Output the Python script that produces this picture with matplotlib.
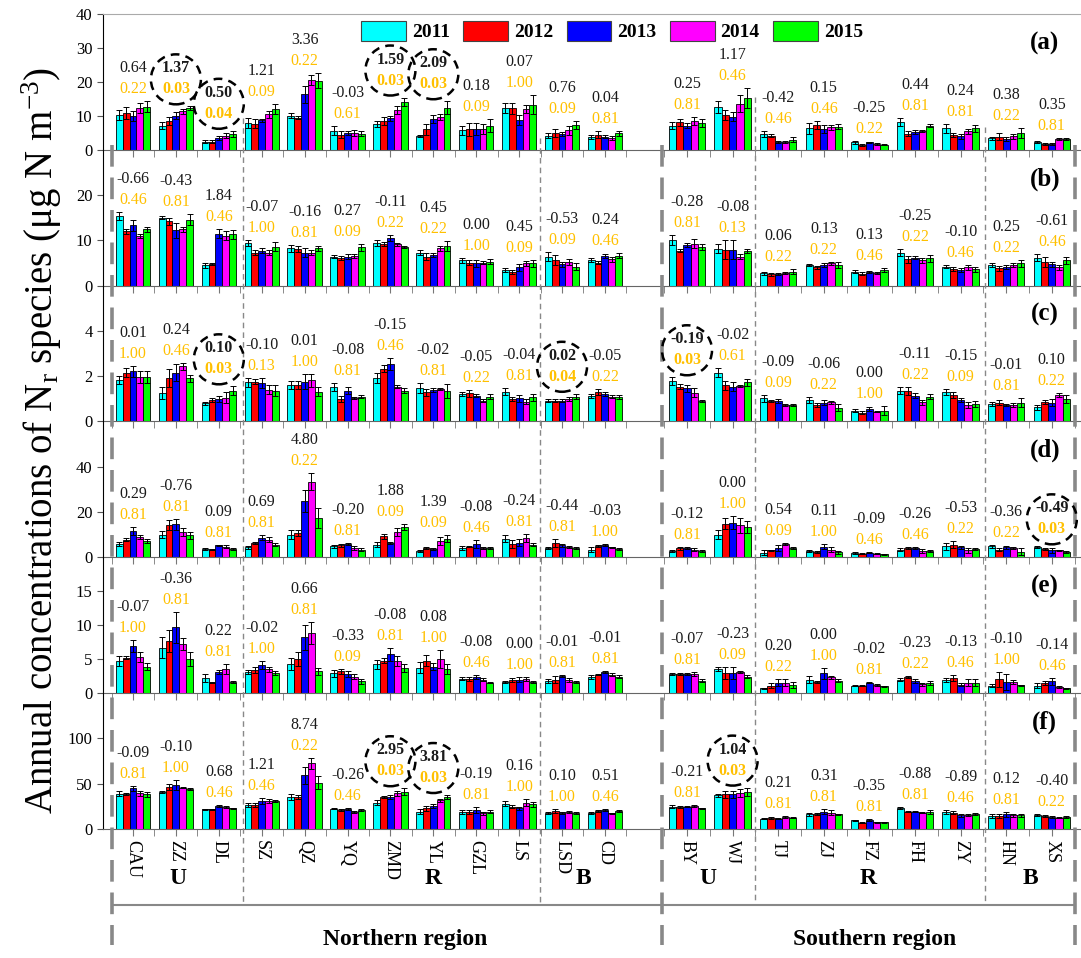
import matplotlib
matplotlib.use("Agg")
import matplotlib.pyplot as plt
import matplotlib.transforms as mtransforms
import numpy as np
from matplotlib.lines import Line2D
from matplotlib.patches import Circle, Patch

plt.rcParams["font.family"] = ["Liberation Serif", "DejaVu Serif"]
plt.rcParams["mathtext.fontset"] = "custom"
plt.rcParams["mathtext.rm"] = "Liberation Serif"
plt.rcParams["mathtext.it"] = "Liberation Serif:italic"

SITES_N = ["CAU", "ZZ", "DL", "SZ", "QZ", "YQ", "ZMD", "YL", "GZL", "LS", "LSD", "CD"]
SITES_S = ["BY", "WJ", "TJ", "ZJ", "FZ", "FH", "ZY", "HN", "XS"]
YEARS = ["2011", "2012", "2013", "2014", "2015"]
COLORS = ["#00FFFF", "#FF0000", "#0000FF", "#FF00FF", "#00FF00"]

# (a) annual means per site, 2011-2015
A_VAL = [[10.2, 10.8, 10.0, 12.2, 12.7], [7.1, 8.5, 10.0, 11.3, 12.2], [2.4, 2.4, 3.4, 4.2, 4.7],
         [7.9, 7.7, 8.7, 10.4, 12.0], [10.0, 9.5, 16.3, 20.6, 20.4], [5.6, 4.5, 4.9, 4.9, 4.7],
         [7.6, 8.4, 9.3, 11.7, 14.1], [4.2, 6.1, 9.0, 9.7, 12.4], [5.8, 6.1, 6.1, 6.1, 7.1],
         [12.4, 12.2, 8.7, 12.0, 13.3], [4.2, 4.9, 4.7, 5.8, 7.3], [3.9, 4.5, 3.9, 3.5, 4.9],
         [7.1, 8.1, 7.1, 8.5, 7.9], [12.7, 10.2, 9.8, 13.6, 15.2], [4.7, 4.2, 2.4, 2.2, 3.0],
         [6.3, 7.3, 6.1, 6.6, 6.8], [2.2, 1.5, 2.2, 1.7, 1.5], [8.1, 4.7, 5.2, 5.6, 7.1],
         [6.3, 4.4, 4.0, 5.4, 6.3], [3.4, 3.9, 3.2, 4.0, 5.0], [2.2, 1.7, 1.7, 3.2, 3.2]]
A_ERR = [[1.4, 1.7, 1.5, 1.5, 1.6], [1.0, 1.3, 1.0, 0.7, 0.6], [0.5, 0.4, 0.6, 0.8, 0.9],
         [1.5, 1.4, 0.5, 1.1, 1.6], [0.7, 0.5, 2.5, 1.4, 2.2], [1.3, 0.9, 0.5, 0.8, 0.7],
         [1.0, 1.2, 0.7, 1.1, 1.3], [0.3, 1.6, 1.2, 0.8, 1.9], [1.3, 1.9, 1.7, 1.5, 2.0],
         [1.5, 1.7, 1.5, 1.2, 2.8], [0.8, 1.1, 0.5, 1.3, 1.3], [0.6, 0.9, 0.5, 0.5, 0.7],
         [1.0, 1.0, 0.8, 1.3, 1.2], [1.8, 1.5, 1.2, 2.5, 3.0], [0.8, 0.5, 0.3, 0.3, 0.7],
         [1.5, 1.3, 1.2, 0.7, 0.8], [0.4, 0.3, 0.2, 0.2, 0.2], [1.2, 0.7, 0.5, 0.3, 0.5],
         [1.3, 0.6, 0.7, 0.8, 1.0], [0.5, 1.1, 0.5, 0.7, 1.4], [0.3, 0.2, 0.2, 0.4, 0.4]]
A_SLOPE = [0.64, 1.37, 0.50, 1.21, 3.36, -0.03, 1.59, 2.09, 0.18, 0.07, 0.76, 0.04,
           0.25, 1.17, -0.42, 0.15, -0.25, 0.44, 0.24, 0.38, 0.35]
A_P = [0.22, 0.03, 0.04, 0.09, 0.22, 0.61, 0.03, 0.03, 0.09, 1.00, 0.09, 0.81,
       0.81, 0.46, 0.46, 0.46, 0.22, 0.81, 0.81, 0.22, 0.81]

# (b)
B_VAL = [[15.4, 12.0, 13.3, 11.0, 12.4], [15.0, 14.2, 12.2, 12.4, 14.6], [4.5, 4.7, 11.5, 11.0, 11.3],
         [9.4, 7.3, 7.7, 7.3, 8.6], [8.2, 8.1, 7.3, 7.3, 8.2], [6.4, 6.1, 6.4, 6.6, 8.5],
         [9.4, 9.2, 10.5, 9.1, 8.6], [7.3, 6.4, 6.7, 8.2, 8.7], [5.6, 5.1, 4.9, 5.1, 5.3],
         [3.4, 3.0, 4.0, 4.9, 4.9], [6.4, 5.6, 4.7, 5.2, 4.2], [5.6, 5.1, 6.6, 5.8, 6.6],
         [10.1, 7.7, 9.0, 9.2, 8.5], [8.1, 7.9, 7.9, 6.4, 7.6], [2.7, 2.5, 2.5, 2.8, 3.1],
         [4.5, 4.0, 4.6, 4.9, 4.6], [3.1, 2.6, 3.0, 2.8, 3.4], [7.3, 5.8, 6.2, 5.6, 6.0],
         [4.2, 3.7, 3.4, 4.0, 3.6], [4.5, 3.8, 4.1, 4.6, 4.9], [6.2, 5.2, 4.7, 4.0, 5.6]]
B_ERR = [[0.9, 0.6, 1.3, 0.5, 0.6], [0.3, 0.8, 1.7, 0.6, 1.2], [0.6, 0.2, 1.0, 1.0, 0.9],
         [0.7, 0.6, 0.6, 0.6, 1.0], [0.8, 0.7, 0.9, 0.6, 0.6], [0.3, 0.4, 0.5, 0.4, 0.8],
         [0.7, 0.4, 0.7, 0.4, 0.2], [0.5, 0.7, 0.4, 0.6, 1.1], [0.5, 0.6, 0.8, 0.4, 0.6],
         [0.4, 0.4, 0.8, 0.6, 0.7], [1.0, 1.1, 0.5, 0.6, 0.7], [0.4, 0.3, 0.4, 0.5, 0.6],
         [1.1, 0.3, 0.4, 1.0, 0.7], [1.0, 2.1, 2.1, 0.6, 0.4], [0.3, 0.3, 0.2, 0.2, 0.5],
         [0.2, 0.4, 0.4, 0.3, 0.7], [0.4, 0.3, 0.3, 0.3, 0.5], [0.7, 0.7, 0.3, 0.6, 0.8],
         [0.3, 0.4, 0.5, 0.5, 0.5], [0.5, 0.5, 0.4, 0.5, 0.8], [0.8, 1.2, 0.5, 0.5, 0.8]]
B_SLOPE = [-0.66, -0.43, 1.84, -0.07, -0.16, 0.27, -0.11, 0.45, 0.00, 0.45, -0.53, 0.24,
           -0.28, -0.08, 0.06, 0.13, 0.13, -0.25, -0.10, 0.25, -0.61]
B_P = [0.46, 0.81, 0.46, 1.00, 0.81, 0.09, 0.22, 0.22, 1.00, 0.09, 0.09, 0.46,
       0.81, 0.13, 0.22, 0.22, 0.46, 0.22, 0.46, 0.22, 0.46]

# (c)
C_VAL = [[1.84, 2.16, 2.21, 1.96, 1.96], [1.24, 1.91, 2.16, 2.43, 1.91], [0.80, 0.95, 0.99, 1.05, 1.35],
         [1.72, 1.76, 1.69, 1.39, 1.36], [1.59, 1.59, 1.76, 1.81, 1.32], [1.51, 0.99, 1.36, 1.05, 1.10],
         [1.91, 2.32, 2.53, 1.54, 1.36], [1.47, 1.29, 1.39, 1.42, 1.35], [1.21, 1.24, 1.14, 0.92, 1.10],
         [1.32, 0.98, 1.02, 0.87, 1.07], [0.92, 0.92, 0.92, 0.99, 1.10], [1.12, 1.29, 1.20, 1.10, 1.07],
         [1.79, 1.54, 1.47, 1.27, 0.90], [2.16, 1.59, 1.54, 1.57, 1.72], [1.02, 0.90, 0.90, 0.72, 0.72],
         [0.95, 0.72, 0.83, 0.84, 0.61], [0.48, 0.39, 0.55, 0.43, 0.48], [1.35, 1.36, 1.14, 0.84, 1.10],
         [1.29, 1.17, 0.95, 0.72, 0.77], [0.76, 0.83, 0.72, 0.72, 0.83], [0.62, 0.87, 0.83, 1.17, 0.99]]
C_ERR = [[0.18, 0.19, 0.25, 0.28, 0.25], [0.27, 0.41, 0.37, 0.15, 0.15], [0.07, 0.10, 0.12, 0.25, 0.20],
         [0.20, 0.10, 0.22, 0.20, 0.25], [0.18, 0.18, 0.35, 0.30, 0.20], [0.18, 0.15, 0.15, 0.05, 0.05],
         [0.22, 0.15, 0.27, 0.07, 0.10], [0.22, 0.15, 0.10, 0.05, 0.30], [0.10, 0.15, 0.08, 0.07, 0.10],
         [0.15, 0.10, 0.15, 0.10, 0.15], [0.06, 0.06, 0.06, 0.08, 0.12], [0.10, 0.12, 0.08, 0.08, 0.08],
         [0.16, 0.10, 0.15, 0.20, 0.05], [0.20, 0.20, 0.20, 0.05, 0.15], [0.15, 0.05, 0.10, 0.05, 0.05],
         [0.15, 0.08, 0.10, 0.06, 0.15], [0.07, 0.05, 0.10, 0.03, 0.20], [0.15, 0.18, 0.10, 0.10, 0.10],
         [0.13, 0.15, 0.08, 0.12, 0.13], [0.08, 0.12, 0.06, 0.10, 0.20], [0.10, 0.08, 0.16, 0.10, 0.18]]
C_SLOPE = [0.01, 0.24, 0.10, -0.10, 0.01, -0.08, -0.15, -0.02, -0.05, -0.04, 0.02, -0.05,
           -0.19, -0.02, -0.09, -0.06, 0.00, -0.11, -0.15, -0.01, 0.10]
C_P = [1.00, 0.46, 0.03, 0.13, 1.00, 0.81, 0.46, 0.81, 0.22, 0.81, 0.04, 0.22,
       0.03, 0.61, 0.09, 0.22, 1.00, 0.22, 0.09, 0.81, 0.22]

# (d)
D_VAL = [[5.9, 7.7, 11.6, 8.9, 7.0], [10.0, 14.1, 14.5, 11.1, 9.6], [3.7, 3.3, 5.2, 4.7, 3.7],
         [4.4, 6.2, 8.6, 7.7, 5.6], [10.0, 10.7, 24.9, 33.3, 17.5], [4.8, 5.2, 5.9, 4.1, 3.4],
         [5.5, 9.2, 6.2, 11.1, 13.3], [2.7, 4.1, 3.7, 7.1, 8.1], [4.1, 4.7, 5.9, 4.1, 4.0],
         [8.1, 5.9, 6.4, 8.6, 5.6], [4.0, 6.4, 5.2, 4.4, 4.1], [3.3, 4.9, 5.5, 4.4, 3.7],
         [2.7, 4.0, 4.0, 3.3, 2.7], [10.0, 14.8, 15.3, 14.1, 13.3], [2.0, 3.0, 4.0, 5.9, 4.0],
         [2.7, 2.2, 4.7, 3.3, 2.2], [1.8, 1.5, 2.0, 1.5, 1.2], [3.4, 4.0, 4.0, 2.7, 2.7],
         [4.8, 5.5, 4.4, 3.0, 3.7], [4.8, 3.3, 4.4, 4.1, 2.5], [4.4, 3.7, 3.0, 3.0, 2.2]]
D_ERR = [[1.0, 0.7, 1.8, 1.0, 0.9], [1.6, 2.2, 2.5, 1.9, 1.5], [0.5, 0.3, 0.4, 0.7, 0.3],
         [0.7, 0.4, 1.0, 1.2, 0.6], [1.9, 1.5, 5.0, 3.7, 4.4], [0.7, 0.6, 0.5, 0.8, 0.5],
         [1.2, 1.2, 0.3, 1.8, 1.5], [0.3, 0.3, 0.4, 1.8, 1.5], [1.0, 0.4, 1.9, 0.6, 0.4],
         [1.5, 1.9, 1.5, 1.8, 0.7], [0.4, 1.8, 0.7, 0.4, 0.3], [1.2, 0.3, 0.5, 0.3, 0.3],
         [0.6, 0.7, 0.5, 0.7, 0.3], [1.9, 2.5, 2.8, 3.3, 2.5], [1.0, 0.3, 1.2, 0.3, 0.4],
         [0.6, 0.4, 1.2, 1.2, 0.7], [0.3, 0.2, 0.3, 0.2, 0.2], [0.6, 0.4, 0.4, 1.0, 0.5],
         [1.6, 1.5, 0.7, 1.2, 0.3], [0.7, 0.7, 0.7, 0.3, 1.5], [0.4, 0.4, 1.0, 0.3, 0.4]]
D_SLOPE = [0.29, -0.76, 0.09, 0.69, 4.80, -0.20, 1.88, 1.39, -0.08, -0.24, -0.44, -0.03,
           -0.12, 0.00, 0.54, 0.11, -0.09, -0.26, -0.53, -0.36, -0.49]
D_P = [0.81, 0.81, 0.81, 0.81, 0.22, 0.81, 0.09, 0.09, 0.46, 0.81, 0.81, 1.00,
       0.81, 1.00, 0.09, 1.00, 0.46, 0.46, 0.22, 0.22, 0.03]

# (e)
E_VAL = [[4.75, 5.2, 6.9, 5.3, 3.9], [6.7, 7.7, 9.7, 7.2, 5.0], [2.2, 1.5, 3.1, 3.5, 1.6],
         [3.1, 3.4, 4.1, 3.5, 2.9], [4.3, 5.0, 8.2, 8.8, 3.2], [2.9, 3.2, 2.8, 2.4, 1.7],
         [4.2, 4.75, 5.7, 4.75, 3.7], [3.7, 4.75, 3.9, 5.0, 3.5], [2.1, 2.1, 2.35, 1.95, 1.5],
         [1.6, 1.85, 1.95, 2.1, 1.6], [1.7, 1.95, 2.5, 1.95, 1.6], [2.4, 2.7, 3.1, 2.7, 2.4],
         [2.8, 2.8, 2.8, 2.8, 1.8], [3.5, 2.9, 2.9, 3.1, 2.4], [0.7, 1.1, 1.5, 1.5, 1.2],
         [1.95, 1.6, 2.9, 2.3, 1.8], [1.1, 1.1, 1.5, 1.2, 1.0], [1.95, 2.3, 1.8, 1.3, 1.5],
         [1.95, 2.2, 1.2, 1.5, 1.5], [1.1, 2.05, 1.6, 1.6, 1.15], [1.1, 1.5, 1.7, 0.9, 0.7]]
E_ERR = [[0.7, 0.2, 0.9, 0.7, 0.5], [1.5, 1.6, 2.3, 0.9, 1.0], [0.6, 0.1, 0.3, 0.7, 0.1],
         [0.35, 0.4, 0.6, 0.4, 0.3], [0.9, 1.0, 1.8, 1.6, 0.5], [0.5, 0.35, 0.4, 0.35, 0.4],
         [0.7, 0.4, 1.0, 0.7, 0.6], [0.8, 0.8, 0.5, 1.3, 0.7], [0.2, 0.3, 0.25, 0.2, 0.1],
         [0.1, 0.3, 0.4, 0.3, 0.2], [0.3, 0.5, 0.2, 0.3, 0.2], [0.3, 0.1, 0.2, 0.2, 0.2],
         [0.2, 0.2, 0.2, 0.3, 0.2], [0.3, 0.9, 0.9, 0.2, 0.25], [0.1, 0.3, 0.5, 0.5, 0.4],
         [0.5, 0.2, 0.8, 0.2, 0.2], [0.05, 0.05, 0.1, 0.1, 0.1], [0.2, 0.15, 0.3, 0.2, 0.3],
         [0.3, 0.5, 0.2, 0.5, 0.5], [0.2, 1.1, 1.2, 0.3, 0.1], [0.3, 0.3, 0.5, 0.1, 0.1]]
E_SLOPE = [-0.07, -0.36, 0.22, -0.02, 0.66, -0.33, -0.08, 0.08, -0.08, 0.00, -0.01, -0.01,
           -0.07, -0.23, 0.20, 0.00, -0.02, -0.23, -0.13, -0.10, -0.14]
E_P = [1.00, 0.81, 0.81, 1.00, 0.81, 0.09, 0.81, 1.00, 0.46, 1.00, 0.81, 0.81,
       0.81, 0.09, 0.22, 1.00, 0.81, 0.22, 0.46, 1.00, 0.46]

# (f)
F_VAL = [[38.9, 38.1, 44.8, 39.2, 38.1], [40.7, 46.7, 48.4, 45.6, 44.4], [21.4, 21.4, 25.1, 24.4, 22.6],
         [26.2, 26.2, 30.7, 30.7, 30.7], [35.1, 35.1, 59.2, 72.2, 51.1], [22.2, 20.7, 22.2, 18.9, 20.7],
         [28.9, 35.1, 35.1, 39.2, 41.1], [18.9, 22.6, 25.1, 31.4, 35.1], [18.9, 18.5, 20.7, 17.0, 18.9],
         [27.8, 24.4, 22.6, 28.9, 27.0], [17.8, 19.6, 17.8, 18.9, 17.8], [17.0, 19.6, 20.7, 17.0, 19.6],
         [24.4, 24.4, 24.4, 25.1, 22.6], [37.0, 38.1, 38.1, 39.2, 41.1], [11.1, 12.2, 11.1, 12.9, 12.2],
         [15.9, 16.7, 18.9, 17.8, 15.9], [9.2, 6.7, 9.6, 7.4, 7.4], [23.3, 18.9, 18.9, 17.8, 18.5],
         [18.5, 17.8, 14.8, 14.8, 16.7], [14.1, 14.1, 15.9, 14.8, 14.8], [15.2, 14.1, 12.9, 12.2, 12.9]]
F_ERR = [[2.9, 1.0, 2.6, 2.6, 2.6], [1.1, 3.3, 5.6, 1.0, 1.1], [0.8, 0.8, 1.0, 1.0, 0.8],
         [2.6, 1.9, 3.0, 1.9, 1.1], [2.9, 1.9, 9.3, 5.9, 6.7], [0.8, 0.8, 1.0, 1.1, 0.8],
         [2.6, 0.8, 2.2, 2.6, 3.7], [2.6, 2.6, 1.9, 1.9, 2.2], [2.2, 2.6, 3.0, 1.5, 1.9],
         [3.0, 1.5, 1.5, 3.7, 3.0], [1.1, 2.2, 1.0, 1.0, 1.0], [1.1, 1.1, 1.1, 1.0, 1.1],
         [1.5, 1.0, 0.8, 1.0, 0.8], [1.9, 3.7, 3.7, 4.4, 4.4], [0.8, 1.1, 0.8, 0.8, 0.8],
         [1.9, 1.1, 2.6, 2.6, 0.8], [0.8, 0.5, 0.8, 0.5, 0.5], [1.1, 0.5, 0.5, 0.5, 1.9],
         [1.9, 1.9, 1.5, 1.1, 1.1], [1.9, 2.6, 3.0, 1.5, 1.5], [1.1, 1.1, 1.1, 0.8, 1.1]]
F_SLOPE = [-0.09, -0.10, 0.68, 1.21, 8.74, -0.26, 2.95, 3.81, -0.19, 0.16, 0.10, 0.51,
           -0.21, 1.04, 0.21, 0.31, -0.35, -0.88, -0.89, 0.12, -0.40]
F_P = [0.81, 1.00, 0.46, 0.46, 0.22, 0.46, 0.03, 0.03, 0.81, 1.00, 1.00, 0.46,
       0.81, 0.03, 0.81, 0.81, 0.81, 0.81, 0.46, 0.81, 0.22]

Y_MAX = [40, 30, 6, 60, 20, 150]
Y_TICKS = [[0, 10, 20, 30, 40], [0, 10, 20], [0, 2, 4], [0, 20, 40], [0, 5, 10, 15], [0, 50, 100]]

# layout, in figure pixels
W, H = 1081, 958
AX_LEFT = 103
PANEL_TOP = 14
PANEL_H = 135.8
N_X0, N_STEP = 133.0, 42.9
S_X0, S_STEP = 687.0, 45.6
P_COLOR = "#FFC000"


def fx(px):
    return px / W


def fy(py):
    return 1 - py / H


def vline(fig, x, y0, y1, **kw):
    fig.add_artist(Line2D([fx(x), fx(x)], [fy(y0), fy(y1)], transform=fig.transFigure, **kw))


def main() -> None:
    fig = plt.figure(figsize=(W / 100, H / 100), dpi=100)

    n_n, n_s = len(SITES_N), len(SITES_S)
    centers = np.concatenate([N_X0 + N_STEP * np.arange(n_n), S_X0 + S_STEP * np.arange(n_s)])
    steps = np.concatenate([np.full(n_n, N_STEP), np.full(n_s, S_STEP)])
    bw = 0.8 * steps / 5
    bounds = np.concatenate([N_X0 - N_STEP / 2 + N_STEP * np.arange(n_n + 1),
                             S_X0 - S_STEP / 2 + S_STEP * np.arange(n_s + 1)])

    panels = [("a", A_VAL, A_ERR, A_SLOPE, A_P), ("b", B_VAL, B_ERR, B_SLOPE, B_P),
              ("c", C_VAL, C_ERR, C_SLOPE, C_P), ("d", D_VAL, D_ERR, D_SLOPE, D_P),
              ("e", E_VAL, E_ERR, E_SLOPE, E_P), ("f", F_VAL, F_ERR, F_SLOPE, F_P)]

    for i, (tag, vals, errs, slopes, pvals) in enumerate(panels):
        top = PANEL_TOP + i * PANEL_H
        ax = fig.add_axes([fx(AX_LEFT), fy(top + PANEL_H), 1 - fx(AX_LEFT), PANEL_H / H])
        vals = np.asarray(vals)
        errs = np.asarray(errs)

        for k in range(len(YEARS)):
            x = centers + (k - 2) * bw
            ax.bar(x, vals[:, k], width=bw, color=COLORS[k], edgecolor="black",
                   linewidth=0.6, zorder=2)
            ax.errorbar(x, vals[:, k], yerr=errs[:, k], fmt="none", ecolor="black",
                        elinewidth=0.7, capsize=2.5, capthick=0.7, zorder=3)

        ax.set_xlim(AX_LEFT, W)
        ax.set_ylim(0, Y_MAX[i])
        ax.set_yticks(Y_TICKS[i])
        ax.tick_params(axis="y", direction="out", length=4, labelsize=12, color="#555555")
        ax.set_xticks(centers)
        ax.set_xticks(bounds, minor=True)
        ax.tick_params(axis="x", which="both", direction="out", length=5, color="#777777")
        if i == len(panels) - 1:
            ax.set_xticklabels(SITES_N + SITES_S, rotation=-90, fontsize=13)
            ax.tick_params(axis="x", pad=3)
        else:
            ax.set_xticklabels([])

        ax.spines["right"].set_visible(False)
        ax.spines["top"].set_visible(i == 0)
        ax.spines["top"].set_color("#aaaaaa")
        ax.spines["bottom"].set_color("#666666")
        ax.spines["left"].set_color("black")
        ax.patch.set_alpha(0)

        ax.text(0.963, 1 - 29 / PANEL_H, f"({tag})", transform=ax.transAxes, ha="center",
                va="center", fontsize=18, fontweight="bold")

        tops = (vals + errs).max(axis=1)
        for j, (cx, ytop) in enumerate(zip(centers, tops)):
            sig = pvals[j] < 0.05
            extra = 5 if sig else 0
            weight = "bold" if sig else "normal"
            ax.annotate(f"{slopes[j]:.2f}", (cx, ytop), xytext=(0, (33 + extra) * 0.72),
                        textcoords="offset points", ha="center", va="center",
                        fontsize=11.5, color="#1a1a1a", fontweight=weight)
            ax.annotate(f"{pvals[j]:.2f}", (cx, ytop), xytext=(0, (12 + extra) * 0.72),
                        textcoords="offset points", ha="center", va="center",
                        fontsize=11.5, color=P_COLOR, fontweight=weight)
            if sig:
                px, py = ax.transData.transform((cx, ytop))
                fig.add_artist(Circle((px, py + 27), 25, transform=mtransforms.IdentityTransform(),
                                      fill=False, ec="black", lw=1.8, ls=(0, (3.5, 2.5)),
                                      zorder=5))

    # region separators
    for x in (112, 662, 1075):
        vline(fig, x, 145, 945, color="#888888", lw=2.6, ls=(0, (6, 3)), zorder=1)
    for x, y0 in ((243, 118), (540, 138), (755, 97), (985, 127)):
        vline(fig, x, y0, 905, color="#888888", lw=1.0, ls=(0, (4, 3)), zorder=1)
    fig.add_artist(Line2D([fx(112), fx(1075)], [fy(905), fy(905)], transform=fig.transFigure,
                          color="#888888", lw=1.5))

    for label, x in (("U", 178), ("R", 433), ("B", 583), ("U", 708), ("R", 868), ("B", 1030)):
        fig.text(fx(x), fy(879), label, ha="center", va="center", fontsize=17, fontweight="bold")
    fig.text(fx(405), fy(940), "Northern region", ha="center", va="center", fontsize=17,
             fontweight="bold")
    fig.text(fx(875), fy(940), "Southern region", ha="center", va="center", fontsize=17,
             fontweight="bold")

    fig.text(fx(42), fy(440), r"Annual concentrations of N$_\mathrm{r}$ species (μg N m$^{\mathrm{-3}}$)",
             rotation=90, ha="center", va="center", fontsize=28)

    handles = [Patch(facecolor=c, edgecolor="#444444", linewidth=0.8) for c in COLORS]
    fig.legend(handles, YEARS, loc="center", bbox_to_anchor=(fx(612), fy(31)), ncol=5,
               frameon=False, prop={"weight": "bold", "size": 14}, handlelength=2.3,
               handleheight=1.2, handletextpad=0.3, columnspacing=0.7)

    fig.savefig("out.png", dpi=100)
    plt.close(fig)


if __name__ == "__main__":
    main()
